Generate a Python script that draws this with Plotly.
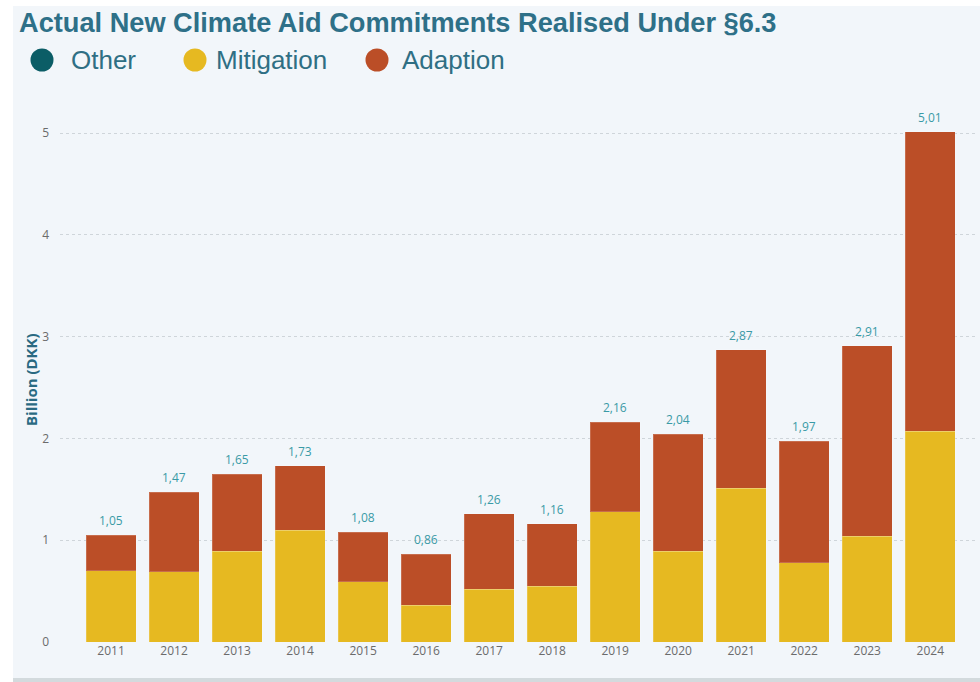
import plotly.graph_objects as go

years = ["2011", "2012", "2013", "2014", "2015", "2016", "2017",
         "2018", "2019", "2020", "2021", "2022", "2023", "2024"]
other = [0, 0, 0, 0, 0, 0, 0, 0, 0, 0, 0, 0, 0, 0]
mitigation = [0.70, 0.69, 0.89, 1.10, 0.59, 0.36, 0.52, 0.55, 1.28, 0.89, 1.51, 0.78, 1.04, 2.07]
adaption = [0.35, 0.78, 0.76, 0.63, 0.49, 0.50, 0.74, 0.61, 0.88, 1.15, 1.36, 1.19, 1.87, 2.94]
series_names = ["Other", "Mitigation", "Adaption"]
colors = ["#0b5d66", "#e6b921", "#bb4e27"]
y_ticks = [0, 1, 2, 3, 4, 5]

totals = [round(o + m + a, 2) for o, m, a in zip(other, mitigation, adaption)]
total_labels = [f"{t:.2f}".replace(".", ",") for t in totals]

W, H = 980, 682
ML, MR, MT, MB = 60, 5, 100, 40
PW, PH = W - ML - MR, H - MT - MB


def px(x):
    return (x - ML) / PW


def py(y):
    return (H - MB - y) / PH


fig = go.Figure()
for name, vals, col in zip(series_names, [other, mitigation, adaption], colors):
    fig.add_trace(go.Bar(
        x=years, y=vals, name=name,
        marker=dict(color=col, line=dict(color="rgba(255,255,255,0.18)", width=1)),
        showlegend=False, hoverinfo="skip"))

shapes = [
    dict(type="rect", xref="paper", yref="paper", x0=px(13), x1=px(W), y0=py(678), y1=py(6),
         fillcolor="#f2f6fa", line=dict(width=0), layer="below"),
    dict(type="rect", xref="paper", yref="paper", x0=px(13), x1=px(W), y0=py(682), y1=py(678),
         fillcolor="#d3dadd", line=dict(width=0), layer="below"),
]
annotations = []
for i, (t, lab) in enumerate(zip(totals, total_labels)):
    annotations.append(dict(x=i, y=t, xref="x", yref="y", text=lab, showarrow=False,
                            yanchor="bottom", yshift=4,
                            font=dict(family="Open Sans", size=12, color="#3a9aa6")))

legend_circle_x = [42, 195, 377]
legend_text_x = [69, 214, 400]
for name, col, cx, tx in zip(series_names, colors, legend_circle_x, legend_text_x):
    shapes.append(dict(type="circle", xref="paper", yref="paper",
                       x0=px(cx - 11.5), x1=px(cx + 11.5), y0=py(60 + 11.5), y1=py(60 - 11.5),
                       fillcolor=col, line=dict(width=0)))
    annotations.append(dict(x=px(tx), y=py(60), xref="paper", yref="paper", text=name,
                            showarrow=False, xanchor="left", yanchor="middle",
                            font=dict(family="Liberation Sans", size=26, color="#2f6f84")))

annotations.append(dict(x=px(31), y=py(380), xref="paper", yref="paper", text="<b>Billion (DKK)</b>",
                        showarrow=False, textangle=-90, xanchor="center", yanchor="middle",
                        font=dict(family="Open Sans", size=15, color="#2a6a82")))

fig.update_layout(
    width=W, height=H,
    margin=dict(l=ML, r=MR, t=MT, b=MB),
    paper_bgcolor="white", plot_bgcolor="rgba(0,0,0,0)",
    barmode="stack", bargap=1 - 50 / 63,
    title=dict(text="<b>Actual New Climate Aid Commitments Realised Under §6.3</b>",
               x=19 / W, xanchor="left", xref="container", y=1 - 13 / H, yanchor="top", yref="container",
               font=dict(family="Liberation Sans", size=27.2, color="#2e7088")),
    shapes=shapes, annotations=annotations,
    xaxis=dict(type="category", range=[-0.81, 13.71], showgrid=False, zeroline=False, showline=False,
               ticks="", tickfont=dict(family="Open Sans", size=12, color="#6b6b6b")),
    yaxis=dict(range=[0, (H - MB - MT) / 101.8], tickvals=y_ticks, showgrid=True, gridcolor="#cfd5da",
               griddash="dot", gridwidth=1, zeroline=False, showline=False, ticks="",
               ticklabelstandoff=10,
               tickfont=dict(family="Open Sans", size=12, color="#6b6b6b")),
)

fig.write_html("out.html", post_script="document.body.style.margin='0';",
               config={"displayModeBar": False})
